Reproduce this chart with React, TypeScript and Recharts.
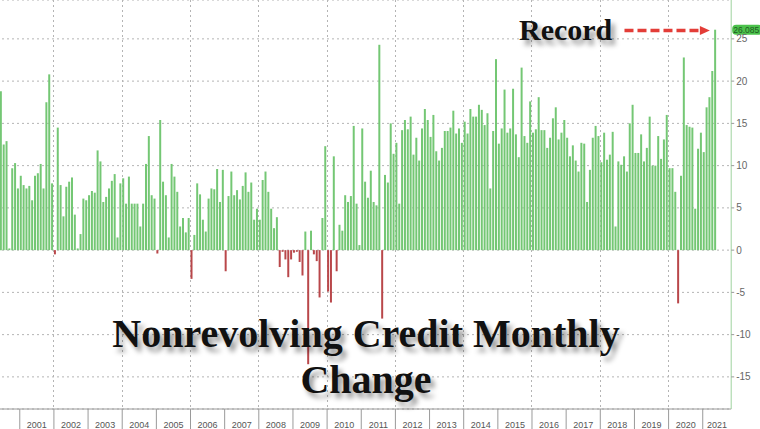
import React from 'react';
import { Bar, BarChart, CartesianGrid, Cell, ReferenceLine, XAxis, YAxis } from 'recharts';

// nonrevolving consumer credit, monthly change ($bn), May 2000 .. May 2021
const monthlyChange = [
    6.9, 18.8, 12.5, 12.9, 0.2, 9.7, 10.3, 7.3, // 2000 (May-Dec)
    8.8, 7.7, 7.3, 7.6, 5.9, 8.8, 9.1, 10.2, 7.3, 17.5, 20.8, 7.9, // 2001
    -0.5, 14.5, 7.7, 4.0, 7.5, 8.1, 8.6, 4.2, 0.2, 1.9, 6.1, 5.9, // 2002
    6.5, 7.0, 6.8, 11.8, 10.5, 5.7, 6.3, 7.3, 8.2, 9.0, 1.5, 7.9, // 2003
    8.5, 5.5, 8.7, 5.5, 5.5, 5.5, 2.8, 5.5, 10.2, 13.5, 6.5, 6.1, // 2004
    -0.4, 15.4, 8.1, 6.5, 1.5, 10.2, 8.7, 6.9, 2.8, 3.8, 2.1, 3.8, // 2005
    -3.4, 1.8, 7.9, 6.6, 3.6, 2.2, 6.1, 7.3, 7.2, 9.6, 5.7, 9.5, // 2006
    -2.5, 6.4, 9.3, 6.5, 7.1, 6.0, 7.6, 9.2, 6.9, 8.0, 3.6, 4.9, // 2007
    3.6, 8.3, 9.3, 6.9, 4.9, 2.6, 3.9, -2.0, -0.2, -1.1, -3.2, -1.1, // 2008
    -0.3, -0.2, -1.4, -3.0, 2.2, -13.5, 2.3, -0.5, -1.3, -5.6, 3.8, 12.3, // 2009
    -4.9, -6.2, 11.1, -2.5, 3.0, 2.3, 6.5, 5.7, 6.4, 14.7, 5.5, 0.6, // 2010
    14.4, 8.1, 6.2, 9.4, 5.7, 5.3, 24.3, -8.1, 8.9, 8.0, 15.0, 11.4, // 2011
    12.7, 5.5, 14.2, 15.4, 14.3, 15.8, 11.3, 13.3, 10.6, 14.4, 16.7, 15.4, // 2012
    13.4, 16.0, 11.7, 10.6, 12.1, 14.1, 14.1, 14.5, 16.5, 13.8, 14.4, 12.7, // 2013
    15.2, 13.8, 16.7, 15.8, 15.8, 17.2, 16.6, 14.8, 16.2, 7.3, 14.1, 22.6, // 2014
    12.6, 14.4, 19.0, 13.9, 14.4, 19.1, 13.7, 11.0, 21.6, 13.5, 12.7, 17.6, // 2015
    13.9, 14.3, 18.1, 14.2, 14.2, 12.1, 13.3, 15.6, 16.9, 13.1, 13.9, 15.4, // 2016
    13.3, 11.1, 12.4, 10.6, 9.3, 12.7, 12.6, 5.7, 9.5, 13.3, 14.7, 13.5, // 2017
    10.4, 13.9, 10.7, 11.3, 14.0, 2.8, 10.5, 10.1, 11.1, 9.3, 15.0, 17.2, // 2018
    11.5, 11.5, 13.7, 10.5, 12.1, 15.8, 10.0, 10.0, 13.5, 10.8, 13.1, 16.0, // 2019
    9.7, 9.7, 6.9, -6.3, 8.8, 22.8, 14.8, 14.6, 14.5, 4.9, 12.0, 13.9, // 2020
    11.6, 16.9, 18.1, 21.2, 26.085, // 2021
];

const FIRST_MONTH = 2000 * 12 + 4; // May 2000
const AXIS_MONTHS = 258; // axis runs on to Oct 2021

const yearLabels = [2001, 2002, 2003, 2004, 2005, 2006, 2007, 2008, 2009, 2010, 2011, 2012, 2013, 2014, 2015, 2016, 2017, 2018, 2019, 2020, 2021];
const gridYears = [2002, 2004, 2006, 2008, 2010, 2012, 2014, 2016, 2018, 2020];
const yTicks = [-15, -10, -5, 0, 5, 10, 15, 20, 25];
const Y_DOMAIN = [-18.8, 29.6];
const recordArrow = { from: '2018-09', to: '2021-03', level: 26 };

const months = Array.from({ length: AXIS_MONTHS }, (_, i) => {
    const t = FIRST_MONTH + i;
    return `${Math.floor(t / 12)}-${String((t % 12) + 1).padStart(2, '0')}`;
});

const data = months.map((m, i) => ({ m, v: i < monthlyChange.length ? monthlyChange[i] : null }));
const lastValue = monthlyChange[monthlyChange.length - 1];

const SHIFT = 3.5; // chart starts a little left of the page, first month is cut
const CHART_W = 764;
const CHART_H = 429;
const Y_AXIS_W = 29.8;
const X_AXIS_H = 20;
const PLOT_W = CHART_W - Y_AXIS_W;
const PLOT_H = CHART_H - X_AXIS_H;
const BAND = PLOT_W / AXIS_MONTHS;

const GREEN = '#74c774';
const RED = '#b9474a';
const GRID = '#b4b4b4';
const SANS = "'Liberation Sans', Arial, sans-serif";
const SERIF = "'Liberation Serif', 'Times New Roman', serif";

// dotted vertical grid every second January, placed on the same band layout the x axis uses
const vGridPath = gridYears
    .map((y) => {
        const x = Math.round(months.indexOf(`${y}-01`) * BAND - SHIFT) + 0.5;
        let d = '';
        for (let yy = 0; yy < PLOT_H; yy += 5) d += `M${x},${yy}v2`;
        return d;
    })
    .join('');

const YearTick = (props: any) => {
    const { x, payload } = props;
    const start = x - BAND / 2;
    const end = Math.min(start + 12 * BAND, PLOT_W);
    const top = CHART_H - X_AXIS_H;
    return (
        <g>
            <line x1={start} x2={start} y1={top} y2={CHART_H} stroke="#9a9a9a" />
            <text x={(start + end) / 2} y={top + 19} textAnchor="middle" fontSize={9} fill="#555" fontFamily={SANS}>
                {String(payload.value).slice(0, 4)}
            </text>
        </g>
    );
};

const RecordArrow = (props: any) => {
    const { x1, y1, x2 } = props;
    const head = 9;
    return (
        <g>
            <line x1={x1} y1={y1} x2={x2 - head} y2={y1} stroke="#e33d38" strokeWidth={3.5} strokeDasharray="9 4" />
            <path d={`M${x2 - head - 1},${y1 - 4.5} L${x2},${y1} L${x2 - head - 1},${y1 + 4.5} Z`} fill="#e33d38" />
        </g>
    );
};

const LastPill = (props: any) => {
    const { viewBox } = props;
    if (!viewBox) return null;
    const x = viewBox.x + (viewBox.width || 0) + 1;
    const y = viewBox.y;
    return (
        <g>
            <rect x={x} y={y - 5} width={30} height={10} rx={4} fill="#4cc24c" />
            <text x={x + 14} y={y + 3} textAnchor="middle" fontSize={8.5} fill="#1f5a1f" fontFamily={SANS}>
                {lastValue.toFixed(3)}
            </text>
        </g>
    );
};

const shadow = '4px 5px 5px rgba(0,0,0,0.4)';

export default function App() {
    return (
        <div style={{ position: 'fixed', left: 0, top: 0, width: 760, height: 429, overflow: 'hidden', background: '#fff' }}>
            <svg width={760} height={PLOT_H} style={{ position: 'absolute', left: 0, top: 0 }}>
                <path d={vGridPath} stroke={GRID} strokeWidth={1} fill="none" />
            </svg>
            <div style={{ position: 'absolute', left: -SHIFT, top: 0 }}>
                <BarChart width={CHART_W} height={CHART_H} data={data} margin={{ top: 0, right: 0, bottom: 0, left: 0 }} barCategoryGap={0}>
                    <CartesianGrid vertical={false} stroke={GRID} strokeDasharray="2 3" />
                    <XAxis
                        dataKey="m"
                        ticks={yearLabels.map((y) => `${y}-01`)}
                        interval={0}
                        tick={<YearTick />}
                        tickLine={false}
                        axisLine={{ stroke: '#9a9a9a' }}
                        height={X_AXIS_H}
                    />
                    <YAxis
                        orientation="right"
                        width={Y_AXIS_W}
                        domain={Y_DOMAIN}
                        allowDataOverflow
                        ticks={yTicks}
                        interval={0}
                        tickSize={3}
                        tickMargin={2}
                        axisLine={{ stroke: '#9fd39f' }}
                        tickLine={{ stroke: '#9a9a9a' }}
                        tick={{ fontSize: 10, fill: '#666', fontFamily: SANS }}
                    />
                    <Bar dataKey="v" barSize={2} isAnimationActive={false}>
                        {data.map((d, i) => (
                            <Cell key={`cell-${i}`} fill={d.v !== null && d.v < 0 ? RED : GREEN} />
                        ))}
                    </Bar>
                    <ReferenceLine
                        segment={[
                            { x: recordArrow.from, y: recordArrow.level },
                            { x: recordArrow.to, y: recordArrow.level },
                        ]}
                        shape={(p: any) => <RecordArrow {...p} />}
                    />
                    <ReferenceLine y={lastValue} stroke="none" label={<LastPill />} />
                </BarChart>
            </div>
            <div
                style={{
                    position: 'absolute',
                    left: 519,
                    top: 15,
                    fontFamily: SERIF,
                    fontWeight: 'bold',
                    fontSize: 30,
                    lineHeight: '30px',
                    color: '#111',
                    whiteSpace: 'nowrap',
                    textShadow: shadow,
                }}
            >
                Record
            </div>
            <div
                style={{
                    position: 'absolute',
                    left: 0,
                    width: 732,
                    top: 310.5,
                    textAlign: 'center',
                    fontFamily: SERIF,
                    fontWeight: 'bold',
                    fontSize: 40,
                    lineHeight: '46px',
                    color: '#111',
                    whiteSpace: 'nowrap',
                    textShadow: shadow,
                }}
            >
                Nonrevolving Credit Monthly
                <br />
                Change
            </div>
        </div>
    );
}
